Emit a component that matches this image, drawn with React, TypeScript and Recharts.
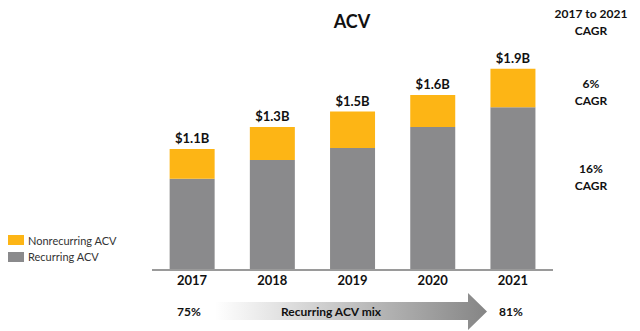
import { BarChart, Bar, XAxis, YAxis, LabelList } from 'recharts'

const years = ['2017', '2018', '2019', '2020', '2021']
const recurring = [0.83, 1.0, 1.11, 1.3, 1.48]
const nonrecurring = [0.27, 0.3, 0.33, 0.29, 0.35]
const totalLabels = ['$1.1B', '$1.3B', '$1.5B', '$1.6B', '$1.9B']

const YELLOW = '#FDB515'
const GRAY = '#8A8A8C'
const FONT = 'Lato, "Open Sans", sans-serif'

const data = years.map((year, i) => ({
  year,
  recurring: recurring[i],
  nonrecurring: nonrecurring[i],
  label: totalLabels[i],
}))

const legendItems = [
  { name: 'Nonrecurring ACV', color: YELLOW },
  { name: 'Recurring ACV', color: GRAY },
]

export default function App() {
  return (
    <div style={{ position: 'absolute', left: 0, top: 0, width: 640, height: 331, background: '#fff', fontFamily: FONT }}>
      <BarChart
        width={640}
        height={331}
        data={data}
        margin={{ top: 50, right: 87, left: 152, bottom: 0 }}
        barCategoryGap="22%"
      >
        <XAxis
          dataKey="year"
          height={61}
          tickLine={false}
          tickSize={4}
          axisLine={{ stroke: '#9a9a9a', strokeWidth: 2 }}
          tick={{ fill: '#111', fontSize: 13, fontWeight: 700, fontFamily: FONT }}
        />
        <YAxis hide domain={[0, 2]} />
        <Bar dataKey="recurring" stackId="a" fill={GRAY} isAnimationActive={false} />
        <Bar dataKey="nonrecurring" stackId="a" fill={YELLOW} isAnimationActive={false}>
          <LabelList
            dataKey="label"
            position="top"
            offset={6}
            fill="#111"
            fontSize={13}
            fontWeight={700}
            fontFamily={FONT}
          />
        </Bar>
      </BarChart>

      {/* legend */}
      <div style={{ position: 'absolute', left: 8, top: 232, fontSize: 11, color: '#333' }}>
        {legendItems.map((item) => (
          <div key={item.name} style={{ display: 'flex', alignItems: 'center', height: 16.5 }}>
            <div style={{ width: 16, height: 10, background: item.color, marginRight: 4 }} />
            <span>{item.name}</span>
          </div>
        ))}
      </div>

      <svg width={640} height={331} style={{ position: 'absolute', left: 0, top: 0, pointerEvents: 'none' }}>
        <defs>
          <linearGradient id="mixGrad" x1="0" y1="0" x2="1" y2="0">
            <stop offset="0%" stopColor="#ffffff" />
            <stop offset="100%" stopColor="#858585" />
          </linearGradient>
        </defs>
        <text x={352} y={28} textAnchor="middle" fontSize={18} fontWeight={700} fill="#111" fontFamily={FONT}>ACV</text>

        <g fontFamily={FONT} fontSize={12} fontWeight={700} fill="#111" textAnchor="middle">
          <text x={591} y={18}>2017 to 2021</text>
          <text x={591} y={35}>CAGR</text>
          <text x={591} y={88}>6%</text>
          <text x={591} y={105}>CAGR</text>
          <text x={591} y={173}>16%</text>
          <text x={591} y={190}>CAGR</text>
        </g>

        {/* recurring mix arrow */}
        <path d="M215,302 L468,302 L468,293 L487,311.5 L468,330 L468,320 L215,320 Z" fill="url(#mixGrad)" />
        <g fontFamily={FONT} fontSize={12} fontWeight={700} fill="#111" textAnchor="middle">
          <text x={189} y={316}>75%</text>
          <text x={331} y={316}>Recurring ACV mix</text>
          <text x={511} y={316}>81%</text>
        </g>
      </svg>
    </div>
  )
}
